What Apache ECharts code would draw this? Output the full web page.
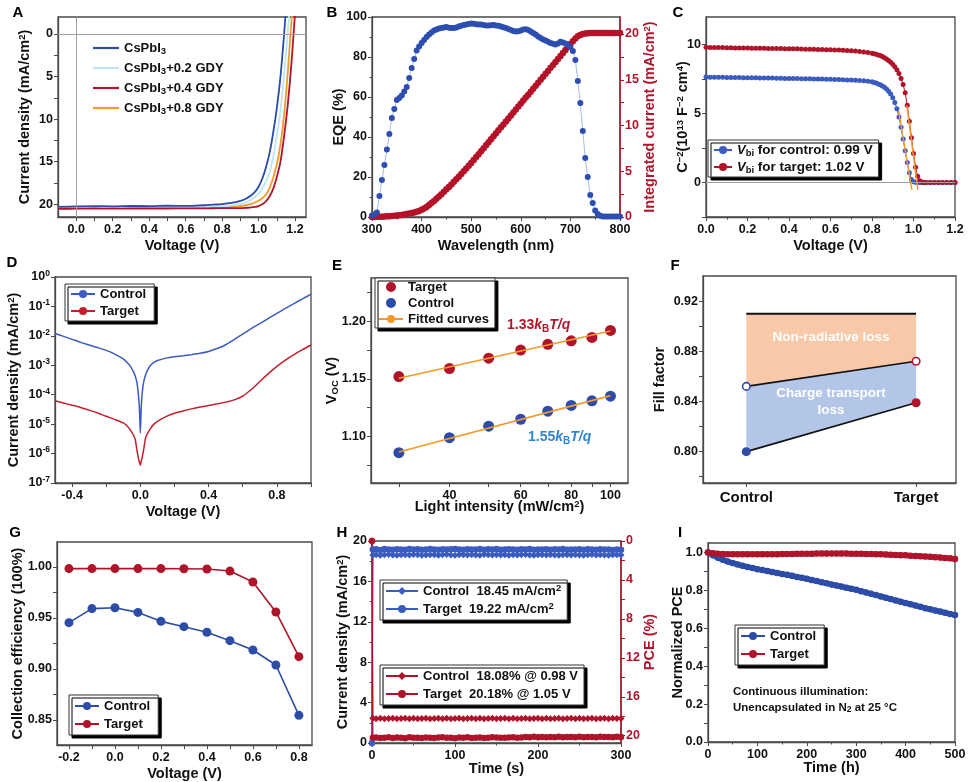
<!DOCTYPE html>
<html><head><meta charset="utf-8">
<script src="https://cdn.jsdelivr.net/npm/echarts@6/dist/echarts.min.js"></script>
<style>html,body{margin:0;padding:0;background:#fff}#c{width:969px;height:782px}</style>
</head><body><div id="c"></div>
<script>
// ---------- DATA ----------
// A: J-V curves
const A_V  = [-0.1,0,0.1,0.2,0.3,0.4,0.5,0.6,0.7,0.75,0.8,0.85,0.9,0.93,0.96,0.98,1.0,1.02,1.04,1.06,1.08,1.1,1.12,1.14,1.16,1.18,1.2,1.22];
const A_J0 = [20.3,20.25,20.22,20.24,20.2,20.22,20.18,20.2,20.12,20.05,19.98,19.85,19.6,19.35,18.95,18.55,17.95,17.0,15.7,14.0,11.6,8.7,5.0,0.0,-6,-12,-18,-24];
const A_J2 = [20.4,20.38,20.38,20.36,20.38,20.36,20.36,20.34,20.3,20.28,20.25,20.15,20.0,19.8,19.45,19.15,18.8,18.15,17.3,16.3,14.4,11.9,9.0,4.8,-0.2,-6,-12,-18];
const A_J4 = [20.55,20.52,20.5,20.52,20.5,20.5,20.5,20.48,20.48,20.47,20.46,20.46,20.45,20.42,20.38,20.32,20.22,20.0,19.65,19.1,18.2,16.8,15.0,12.0,8.3,3.5,-2.5,-9];
const A_J8 = [20.45,20.45,20.44,20.45,20.44,20.44,20.43,20.42,20.4,20.38,20.35,20.3,20.22,20.12,19.95,19.8,19.6,19.3,18.85,18.1,16.9,15.3,13.0,9.5,4.5,-1.5,-7,-13];
// B: EQE and integrated current
const B_WL = [300,305,310,315,320,325,330,335,340,345,350,355,360,365,370,375,380,385,390,395,400,405,410,415,420,425,430,435,440,445,450,455,460,465,470,475,480,485,490,495,500,505,510,515,520,525,530,535,540,545,550,555,560,565,570,575,580,585,590,595,600,605,610,615,620,625,630,635,640,645,650,655,660,665,670,675,680,685,690,695,700,705,710,715,720,725,730,735,740,745,750,755,760,765,770,775,780,785,790,795,800];
const B_EQE = [0.8,1.2,2.3,10.5,18.5,26,33.8,41.5,49.5,54,
58.5,59.5,60.8,62.8,65,69.5,74.5,79,83.2,85.2,
87,88.5,90,91.2,92.3,93.2,93.8,94.2,94.5,94.8,
95,94.6,94.5,94.5,94.8,95.2,95.6,96,96.2,96.5,
96.7,96.6,96.4,96.3,96.2,96,95.8,95.7,95.9,96,
95.8,95.6,95.3,94.9,94.5,94,93.5,93,92.8,92.9,
93.3,93.8,93.9,93.5,92.8,92,91.2,90.3,89.5,88.8,
88.2,87.6,87,86.6,86.3,86.8,87.6,87.3,86.8,86,
85,83,78.5,68,57,43,29.5,20,11,7,
3.2,1.5,0.6,0.3,0.3,0.3,0.3,0.3,0.3,0.3,0.3];
const B_INT = [0,0.01,0.02,0.03,0.04,0.05,0.07,0.09,0.11,0.13,
0.16,0.19,0.23,0.27,0.32,0.37,0.43,0.5,0.57,0.66,
0.78,0.93,1.1,1.3,1.52,1.76,2.0,2.25,2.5,2.76,
3.02,3.29,3.56,3.84,4.12,4.41,4.7,5.0,5.3,5.6,
5.9,6.22,6.55,6.87,7.2,7.52,7.85,8.17,8.5,8.82,
9.15,9.47,9.8,10.12,10.45,10.77,11.1,11.42,11.75,12.07,
12.4,12.72,13.05,13.37,13.7,14.02,14.35,14.67,15.0,15.32,
15.65,15.97,16.3,16.62,16.95,17.27,17.6,17.92,18.25,18.57,
18.9,19.22,19.52,19.75,19.9,19.99,20.05,20.08,20.1,20.1,
20.1,20.1,20.1,20.1,20.1,20.1,20.1,20.1,20.1,20.1,20.1];
// C: Mott-Schottky
const C_X = [0,0.02,0.04,0.06,0.08,0.1,0.12,0.14,0.16,0.18,0.2,0.22,0.24,0.26,0.28,0.3,0.32,0.34,0.36,0.38,0.4,0.42,0.44,0.46,0.48,0.5,0.52,0.54,0.56,0.58,0.6,0.62,0.64,0.66,0.68,0.7,0.72,0.74,0.76,0.78,0.8,0.81,0.82,0.83,0.84,0.85,0.86,0.87,0.88,0.89,0.9,0.91,0.92,0.93,0.94,0.95,0.96,0.97,0.98,0.99,1.0,1.01,1.02,1.03,1.04,1.05,1.06,1.08,1.1,1.12,1.14,1.16,1.18,1.2];
const C_CT = [7.65,7.64,7.64,7.63,7.63,7.62,7.62,7.61,7.61,7.6,7.6,7.59,7.59,7.58,7.58,7.57,7.57,7.56,7.56,7.55,7.55,7.54,7.54,7.53,7.52,7.52,7.51,7.5,7.5,7.49,7.48,7.47,7.46,7.45,7.44,7.43,7.41,7.39,7.37,7.34,7.3,7.26,7.21,7.15,7.08,7.0,6.9,6.78,6.62,6.42,6.15,5.8,5.35,4.75,4.0,3.15,2.3,1.45,0.7,0.22,0.06,0.02,0.01,0,0,0,0,0,0,0,0,0,0,0];
const C_TG = [9.8,9.79,9.79,9.78,9.78,9.77,9.77,9.76,9.76,9.75,9.75,9.74,9.74,9.73,9.73,9.72,9.72,9.71,9.71,9.7,9.7,9.69,9.69,9.68,9.67,9.66,9.66,9.65,9.64,9.63,9.62,9.61,9.6,9.59,9.57,9.56,9.53,9.5,9.47,9.43,9.38,9.34,9.3,9.25,9.2,9.13,9.05,8.96,8.85,8.72,8.57,8.4,8.18,7.9,7.55,7.1,6.5,5.6,4.45,3.25,2.1,1.1,0.45,0.12,0.03,0.01,0,0,0,0,0,0,0,0];
const C_FIT_CT = [[0.928,5.2],[0.992,-0.53]];
const C_FIT_TG = [[0.968,5.6],[1.021,-0.53]];
// D: dark J-V (log)
const D_V = [-0.5,-0.45,-0.4,-0.35,-0.3,-0.25,-0.2,-0.15,-0.1,-0.08,-0.06,-0.04,-0.03,-0.02,-0.015,-0.01,-0.005,0,0.005,0.01,0.015,0.02,0.03,0.04,0.06,0.08,0.1,0.15,0.2,0.25,0.3,0.35,0.4,0.45,0.5,0.55,0.6,0.65,0.7,0.75,0.8,0.85,0.9,0.95,1.0];
const D_CT = [1.2e-2,9.6e-3,7.6e-3,6.0e-3,4.9e-3,4.0e-3,3.2e-3,2.4e-3,1.65e-3,1.3e-3,9.5e-4,6.0e-4,4.3e-4,2.6e-4,1.6e-4,8.5e-5,3e-5,5e-6,3.5e-5,1e-4,1.8e-4,2.8e-4,4.6e-4,6.5e-4,1.0e-3,1.25e-3,1.45e-3,1.75e-3,1.95e-3,2.1e-3,2.3e-3,2.55e-3,2.95e-3,3.7e-3,5.0e-3,7.5e-3,1.15e-2,1.75e-2,2.6e-2,3.9e-2,5.8e-2,8.6e-2,1.25e-1,1.8e-1,2.6e-1];
const D_TG = [6.2e-5,5.2e-5,4.4e-5,3.7e-5,3.0e-5,2.4e-5,1.85e-5,1.45e-5,1.1e-5,9e-6,6.5e-6,4.2e-6,3e-6,1.3e-6,9e-7,6.5e-7,5e-7,4e-7,5.5e-7,7e-7,1e-6,1.4e-6,3.3e-6,4.6e-6,7.2e-6,1.0e-5,1.25e-5,1.8e-5,2.35e-5,2.8e-5,3.3e-5,3.8e-5,4.3e-5,4.9e-5,5.6e-5,6.7e-5,9e-5,1.5e-4,2.8e-4,5.2e-4,9.2e-4,1.5e-3,2.3e-3,3.4e-3,4.9e-3];
// E: Voc vs light intensity
const E_I = [30,40,50,60,70,80,90,100];
const E_TG = [1.152,1.159,1.168,1.175,1.180,1.183,1.186,1.192];
const E_CT = [1.086,1.099,1.109,1.115,1.122,1.127,1.131,1.135];
const E_FIT_X = [30,100];
const E_FIT_TG = [1.1505,1.1915];
const E_FIT_CT = [1.0865,1.1355];
// F: fill factor losses
const F_CAT = ['Control','Target'];
const F_X = [0,1];
const F_TOP = [0.91,0.91];
const F_OPEN = [0.852,0.872];
const F_FILL = [0.800,0.839];
// G: collection efficiency
const G_V = [-0.2,-0.1,0,0.1,0.2,0.3,0.4,0.5,0.6,0.7,0.8];
const G_CT = [0.9454,0.9592,0.9601,0.9555,0.9467,0.9415,0.936,0.9278,0.9186,0.9039,0.8546];
const G_TG = [0.9984,0.9984,0.9984,0.9984,0.9984,0.9983,0.998,0.996,0.9853,0.9559,0.9121];
// H: steady-state output
const H_T = [0,1,5,10,15,20,25,30,35,40,45,50,55,60,65,70,75,80,85,90,95,100,105,110,115,120,125,130,135,140,145,150,155,160,165,170,175,180,185,190,195,200,205,210,215,220,225,230,235,240,245,250,255,260,265,270,275,280,285,290,295,300];
const H_JC = [0,18.62,18.65,18.6,18.64,18.66,18.62,18.6,18.65,18.63,18.61,18.66,18.64,18.6,18.62,18.65,18.63,18.6,18.64,18.66,18.62,18.6,18.63,18.65,18.61,18.64,18.62,18.6,18.66,18.63,18.61,18.64,18.62,18.65,18.6,18.63,18.61,18.64,18.66,18.62,18.6,18.63,18.65,18.61,18.64,18.62,18.6,18.63,18.65,18.61,18.64,18.62,18.6,18.63,18.66,18.61,18.64,18.62,18.6,18.63,18.65,18.62];
const H_JT = [0,19.15,19.18,19.12,19.2,19.16,19.14,19.19,19.17,19.13,19.2,19.15,19.18,19.14,19.16,19.21,19.17,19.13,19.19,19.15,19.18,19.22,19.16,19.14,19.19,19.17,19.15,19.2,19.13,19.18,19.16,19.2,19.14,19.17,19.19,19.15,19.13,19.18,19.16,19.2,19.14,19.17,19.15,19.19,19.13,19.18,19.16,19.2,19.14,19.17,19.15,19.19,19.13,19.18,19.16,19.14,19.19,19.17,19.15,19.12,19.16,19.14];
const H_PC = [0,18.22,18.25,18.2,18.27,18.24,18.21,18.26,18.23,18.2,18.25,18.22,18.27,18.24,18.2,18.26,18.23,18.21,18.25,18.22,18.27,18.24,18.2,18.26,18.23,18.21,18.25,18.22,18.27,18.24,18.2,18.26,18.23,18.21,18.25,18.22,18.27,18.24,18.2,18.26,18.23,18.21,18.25,18.22,18.27,18.24,18.2,18.26,18.23,18.21,18.25,18.22,18.27,18.24,18.2,18.26,18.23,18.21,18.25,18.22,18.24,18.23];
const H_PT = [0,20.22,20.18,20.24,20.2,20.16,20.23,20.19,20.21,20.25,20.17,20.22,20.2,20.24,20.18,20.21,20.23,20.19,20.16,20.22,20.2,20.25,20.18,20.21,20.17,20.23,20.2,20.19,20.24,20.21,20.15,20.18,20.2,20.22,20.19,20.16,20.21,20.18,20.13,20.15,20.12,20.16,20.14,20.17,20.13,20.15,20.12,20.16,20.14,20.13,20.15,20.12,20.16,20.14,20.13,20.15,20.12,20.14,20.13,20.15,20.12,20.14];
// I: stability
const I_T = [0,10,20,30,40,50,60,70,80,90,100,110,120,130,140,150,160,170,180,190,200,210,220,230,240,250,260,270,280,290,300,310,320,330,340,350,360,370,380,390,400,410,420,430,440,450,460,470,480,490,500];
const I_CT = [1.0,0.985,0.972,0.961,0.952,0.944,0.937,0.930,0.924,0.918,0.912,0.907,0.902,0.897,0.892,0.887,0.882,0.877,0.871,0.866,0.861,0.855,0.849,0.843,0.837,0.831,0.826,0.820,0.814,0.809,0.803,0.796,0.789,0.782,0.775,0.768,0.761,0.754,0.747,0.740,0.733,0.727,0.720,0.713,0.706,0.700,0.694,0.688,0.682,0.676,0.670];
const I_TG = [1.0,0.996,0.993,0.992,0.991,0.99,0.99,0.99,0.99,0.99,0.99,0.99,0.991,0.991,0.991,0.992,0.992,0.992,0.993,0.993,0.993,0.993,0.994,0.994,0.994,0.994,0.994,0.994,0.994,0.993,0.993,0.993,0.992,0.992,0.991,0.99,0.989,0.988,0.987,0.986,0.985,0.983,0.982,0.98,0.979,0.977,0.975,0.973,0.971,0.969,0.966];

// ---------- STYLE ----------
const FONT = "'Liberation Sans', Arial, Helvetica, sans-serif";
const AXC = '#4a4a4a';
const BLUE = '#2c4ca8', RED = '#b0142b', ORANGE = '#f39a2d', CYAN = '#bde6f4', LBLUE='#3a5cc0';
const zip = (xs, ys) => xs.map((x, i) => [x, ys[i]]);
function merge(a, b) {
  const o = Object.assign({}, a);
  for (const k in b) {
    const v = b[k];
    if (v && typeof v === 'object' && !Array.isArray(v) && o[k] && typeof o[k] === 'object' && !Array.isArray(o[k])) o[k] = merge(o[k], v);
    else o[k] = v;
  }
  return o;
}
function richSet(color) {
  return {
    p: {fontSize: 9.5, fontWeight: 'bold', lineHeight: 10, verticalAlign: 'top', fontFamily: FONT, color},
    s: {fontSize: 9.5, fontWeight: 'bold', lineHeight: 10, verticalAlign: 'bottom', fontFamily: FONT, color},
    i: {fontSize: 13, fontStyle: 'italic', fontWeight: 'bold', fontFamily: FONT, color, lineHeight: 16}
  };
}
function axis(extra) {
  return merge({
    nameLocation: 'middle', nameMoveOverlap: false,
    nameTextStyle: {color: '#111', fontFamily: FONT, fontWeight: 'bold', fontSize: 14.5, lineHeight: 16, rich: richSet('#111')},
    axisLine: {show: true, onZero: false, lineStyle: {color: AXC, width: 1.3}},
    axisTick: {show: true, inside: false, length: 4, lineStyle: {color: AXC, width: 1}},
    minorTick: {show: false},
    axisLabel: {color: '#111', fontFamily: FONT, fontWeight: 'bold', fontSize: 12.5, margin: 5, lineHeight: 16, rich: {p: {fontSize: 8.5, fontWeight: 'bold', lineHeight: 9, verticalAlign: 'top', fontFamily: FONT, color: '#111'}}},
    splitLine: {show: false}
  }, extra || {});
}
const MINOR = {show: true, splitNumber: 2, length: 2.5, lineStyle: {color: AXC}};
const f1 = v => v.toFixed(1), f2 = v => v.toFixed(2);
function grid(l, t, w, h) {
  return {left: l, top: t, width: w, height: h, show: true, borderColor: AXC, borderWidth: 1.3, backgroundColor: 'rgba(0,0,0,0)', containLabel: false, outerBoundsMode: 'none'};
}

const LBL = {
  a0: 'CsPbI{s|3}', a2: 'CsPbI{s|3}+0.2 GDY', a4: 'CsPbI{s|3}+0.4 GDY', a8: 'CsPbI{s|3}+0.8 GDY',
  cCtrl: '{i|V}{s|bi} for control: 0.99 V', cTgt: '{i|V}{s|bi} for target: 1.02 V',
  dCtrl: 'Control', dTgt: 'Target',
  eTgt: 'Target', eCtrl: 'Control', eFit: 'Fitted curves',
  gCtrl: 'Control', gTgt: 'Target',
  hJc: 'Control  18.45 mA/cm{p|2}', hJt: 'Target  19.22 mA/cm{p|2}',
  hPc: 'Control  18.08% @ 0.98 V', hPt: 'Target  20.18% @ 1.05 V',
  iCtrl: 'Control', iTgt: 'Target'
};
function legend(extra) {
  return merge({
    orient: 'vertical', backgroundColor: '#fff', borderColor: '#333', borderWidth: 1,
    shadowColor: '#000', shadowBlur: 0, shadowOffsetX: 3, shadowOffsetY: 3,
    padding: [3, 6, 3, 6], itemGap: 3, itemWidth: 24, itemHeight: 10, selectedMode: false,
    textStyle: {fontFamily: FONT, fontWeight: 'bold', fontSize: 13, color: '#111', lineHeight: 16, rich: richSet('#111')},
    formatter: n => LBL[n]
  }, extra);
}

const grids = [
  grid(58, 17, 248, 200),   // A
  grid(372, 17, 248, 200),  // B
  grid(706, 17, 249, 200),  // C
  grid(55, 277, 256, 206),  // D
  grid(371, 278, 257, 205), // E
  grid(703, 276, 253, 207), // F
  grid(57, 542, 255, 203),  // G
  grid(372, 541, 249, 202), // H
  grid(708, 543, 247, 199)  // I
];

const xAxes = [
  axis({gridIndex: 0, type: 'value', min: -0.1, max: 1.26, name: 'Voltage (V)', nameGap: 21,
    axisLabel: {customValues: [0,0.2,0.4,0.6,0.8,1.0,1.2], formatter: f1},
    axisTick: {customValues: [0,0.1,0.2,0.3,0.4,0.5,0.6,0.7,0.8,0.9,1.0,1.1,1.2]}}),
  axis({gridIndex: 1, type: 'value', min: 300, max: 800, interval: 100, name: 'Wavelength (nm)', nameGap: 21, minorTick: MINOR}),
  axis({gridIndex: 2, type: 'value', min: 0, max: 1.2, interval: 0.2, name: 'Voltage (V)', nameGap: 21, minorTick: MINOR, axisLabel: {formatter: f1}}),
  axis({gridIndex: 3, type: 'value', min: -0.5, max: 1.0, name: 'Voltage (V)', nameGap: 21,
    axisLabel: {customValues: [-0.4,0,0.4,0.8], formatter: f1},
    axisTick: {customValues: [-0.4,-0.2,0,0.2,0.4,0.6,0.8,1.0]}}),
  axis({gridIndex: 4, type: 'log', logBase: 10, min: 25.6, max: 110.5, name: 'Light intensity (mW/cm{p|2})', nameGap: 16,
    axisLabel: {customValues: [40,60,80,100], formatter: v => String(Math.round(v))},
    axisTick: {customValues: [30,40,50,60,70,80,90,100]}}),
  axis({gridIndex: 5, type: 'value', min: -0.255, max: 1.235,
    axisLabel: {customValues: [0,1], formatter: v => F_CAT[Math.round(v)], fontSize: 15, margin: 7},
    axisTick: {customValues: [0,1]}}),
  axis({gridIndex: 6, type: 'value', min: -0.252, max: 0.857, name: 'Voltage (V)', nameGap: 21,
    axisLabel: {customValues: [-0.2,0,0.2,0.4,0.6,0.8], formatter: f1},
    axisTick: {customValues: [-0.2,-0.1,0,0.1,0.2,0.3,0.4,0.5,0.6,0.7,0.8]}}),
  axis({gridIndex: 7, type: 'value', min: 0, max: 300, interval: 100, name: 'Time (s)', nameGap: 18, minorTick: MINOR}),
  axis({gridIndex: 8, type: 'value', min: 0, max: 500, interval: 100, name: 'Time (h)', nameGap: 18, minorTick: MINOR})
];

const redAxisStyle = {
  axisLine: {lineStyle: {color: RED, width: 1.5}},
  axisTick: {lineStyle: {color: RED}},
  axisLabel: {color: RED},
  nameTextStyle: {color: RED, rich: richSet(RED)}
};

const yAxes = [
  axis({gridIndex: 0, type: 'value', inverse: true, min: -2, max: 21.5, name: 'Current density (mA/cm{p|2})', nameGap: 25,
    axisLabel: {customValues: [0,5,10,15,20]}, axisTick: {customValues: [0,2.5,5,7.5,10,12.5,15,17.5,20]}}),
  axis({gridIndex: 1, type: 'value', min: 0, max: 100, interval: 20, name: 'EQE (%)', nameGap: 25, minorTick: MINOR}),
  axis(merge({gridIndex: 1, type: 'value', position: 'right', min: 0, max: 21.86, name: 'Integrated current (mA/cm{p|2})', nameGap: 22,
    axisLabel: {customValues: [0,5,10,15,20]}, axisTick: {customValues: [0,2.5,5,7.5,10,12.5,15,17.5,20]}}, redAxisStyle)),
  axis({gridIndex: 2, type: 'value', min: -2.5, max: 12, name: 'C{p|−2}(10{p|13} F{p|−2} cm{p|4})', nameGap: 15,
    axisLabel: {customValues: [0,5,10]}, axisTick: {customValues: [-2.5,0,2.5,5,7.5,10]}}),
  axis({gridIndex: 3, type: 'log', logBase: 10, min: 1e-7, max: 1, name: 'Current density (mA/cm{p|2})', nameGap: 33,
    axisLabel: {formatter: v => '10{p|' + Math.round(Math.log10(v)) + '}'}}),
  axis({gridIndex: 4, type: 'value', min: 1.0597, max: 1.2375, name: 'V{s|OC} (V)', nameGap: 31,
    axisLabel: {customValues: [1.10,1.15,1.20], formatter: f2}, axisTick: {customValues: [1.075,1.1,1.125,1.15,1.175,1.2,1.225]}}),
  axis({gridIndex: 5, type: 'value', min: 0.775, max: 0.94, name: 'Fill factor', nameGap: 35,
    axisLabel: {customValues: [0.80,0.84,0.88,0.92], formatter: f2}, axisTick: {customValues: [0.78,0.8,0.82,0.84,0.86,0.88,0.9,0.92]}}),
  axis({gridIndex: 6, type: 'value', min: 0.8255, max: 1.0245, name: 'Collection efficiency (100%)', nameGap: 31,
    axisLabel: {customValues: [0.85,0.90,0.95,1.00], formatter: f2}, axisTick: {customValues: [0.85,0.875,0.9,0.925,0.95,0.975,1.0]}}),
  axis({gridIndex: 7, type: 'value', min: 0, max: 20, interval: 4, name: 'Current density (mA/cm{p|2})', nameGap: 21, minorTick: MINOR}),
  axis(merge({gridIndex: 7, type: 'value', position: 'right', inverse: true, min: 0, max: 20.75, name: 'PCE (%)', nameGap: 21,
    axisLabel: {customValues: [0,4,8,12,16,20]}, axisTick: {customValues: [0,2,4,6,8,10,12,14,16,18,20]}}, redAxisStyle)),
  axis({gridIndex: 8, type: 'value', min: 0, max: 1.05, name: 'Normalized PCE', nameGap: 22,
    axisLabel: {customValues: [0,0.2,0.4,0.6,0.8,1.0], formatter: f1}, axisTick: {customValues: [0,0.1,0.2,0.3,0.4,0.5,0.6,0.7,0.8,0.9,1.0]}})
];

const refLine = (data) => ({silent: true, symbol: 'none', label: {show: false}, animation: false,
  lineStyle: {color: '#a0a0a0', width: 1, type: 'solid'}, emphasis: {disabled: true}, data});

const lineS = (name, xi, yi, data, color, extra) => merge({
  type: 'line', name, xAxisIndex: xi, yAxisIndex: yi, data, symbol: 'none',
  lineStyle: {color, width: 1.6}, itemStyle: {color}, emphasis: {disabled: true}
}, extra || {});

const series = [
  // A
  lineS('a8', 0, 0, zip(A_V, A_J8), ORANGE, {smooth: 0.3, lineStyle: {width: 1.8}}),
  lineS('a2', 0, 0, zip(A_V, A_J2), CYAN, {smooth: 0.3, lineStyle: {width: 1.8}}),
  lineS('a4', 0, 0, zip(A_V, A_J4), RED, {smooth: 0.3, lineStyle: {width: 1.8}}),
  lineS('a0', 0, 0, zip(A_V, A_J0), BLUE, {smooth: 0.3, lineStyle: {width: 1.8}, markLine: refLine([{xAxis: 0}, {yAxis: 0}])}),
  // B
  lineS('bEQE', 1, 1, zip(B_WL, B_EQE), '#a9bbe6', {symbol: 'circle', symbolSize: 6, showAllSymbol: true, lineStyle: {width: 1}, itemStyle: {color: '#2d4eb0'}}),
  {type: 'scatter', name: 'bInt', xAxisIndex: 1, yAxisIndex: 2, data: zip(B_WL, B_INT), symbolSize: 6.5, itemStyle: {color: '#b5122a', opacity: 1}},
  // C
  lineS('cCtrl', 2, 3, zip(C_X, C_CT), LBLUE, {symbol: 'circle', symbolSize: 5, showAllSymbol: true, lineStyle: {width: 1}, markLine: refLine([{yAxis: 0}])}),
  lineS('cTgt', 2, 3, zip(C_X, C_TG), RED, {symbol: 'circle', symbolSize: 5, showAllSymbol: true, lineStyle: {width: 1}}),
  lineS('cFit1', 2, 3, C_FIT_CT, ORANGE, {lineStyle: {width: 1.4}, z: 4}),
  lineS('cFit2', 2, 3, C_FIT_TG, ORANGE, {lineStyle: {width: 1.4}, z: 4}),
  // D
  lineS('dCtrl', 3, 4, zip(D_V, D_CT), LBLUE, {smooth: 0.25, lineStyle: {width: 1.5}}),
  lineS('dTgt', 3, 4, zip(D_V, D_TG), '#c0202e', {smooth: 0.25, lineStyle: {width: 1.5}}),
  // E
  {type: 'scatter', name: 'eTgt', xAxisIndex: 4, yAxisIndex: 5, data: zip(E_I, E_TG), symbolSize: 11, itemStyle: {color: RED, opacity: 1}},
  {type: 'scatter', name: 'eCtrl', xAxisIndex: 4, yAxisIndex: 5, data: zip(E_I, E_CT), symbolSize: 11, itemStyle: {color: BLUE, opacity: 1}},
  lineS('eFit', 4, 5, zip(E_FIT_X, E_FIT_TG), ORANGE, {lineStyle: {width: 1.6}, z: 4}),
  lineS('eFit', 4, 5, zip(E_FIT_X, E_FIT_CT), ORANGE, {lineStyle: {width: 1.6}, z: 4}),
  // F bands
  {type: 'custom', name: 'fBandO', xAxisIndex: 5, yAxisIndex: 6, data: [[F_X[0], F_TOP[0]]], silent: true, z: 1,
    renderItem: (p, api) => ({type: 'polygon', shape: {points: [
      api.coord([F_X[0], F_TOP[0]]), api.coord([F_X[1], F_TOP[1]]), api.coord([F_X[1], F_OPEN[1]]), api.coord([F_X[0], F_OPEN[0]])]},
      style: {fill: '#f7c9a8'}})},
  {type: 'custom', name: 'fBandB', xAxisIndex: 5, yAxisIndex: 6, data: [[F_X[0], F_OPEN[0]]], silent: true, z: 1,
    renderItem: (p, api) => ({type: 'polygon', shape: {points: [
      api.coord([F_X[0], F_OPEN[0]]), api.coord([F_X[1], F_OPEN[1]]), api.coord([F_X[1], F_FILL[1]]), api.coord([F_X[0], F_FILL[0]])]},
      style: {fill: '#b3c6e8'}})},
  lineS('fTop', 5, 6, zip(F_X, F_TOP), '#111', {lineStyle: {width: 2}}),
  lineS('fOpen', 5, 6, [
      {value: [F_X[0], F_OPEN[0]], itemStyle: {color: '#fff', borderColor: BLUE, borderWidth: 1.6}},
      {value: [F_X[1], F_OPEN[1]], itemStyle: {color: '#fff', borderColor: RED, borderWidth: 1.6}}],
    '#111', {symbol: 'circle', symbolSize: 7.5, lineStyle: {width: 1.6}, z: 5}),
  lineS('fFill', 5, 6, [
      {value: [F_X[0], F_FILL[0]], itemStyle: {color: BLUE}},
      {value: [F_X[1], F_FILL[1]], itemStyle: {color: RED}}],
    '#111', {symbol: 'circle', symbolSize: 9, lineStyle: {width: 1.6}, z: 5}),
  // G
  lineS('gCtrl', 6, 7, zip(G_V, G_CT), BLUE, {symbol: 'circle', symbolSize: 9, lineStyle: {width: 1.6}}),
  lineS('gTgt', 6, 7, zip(G_V, G_TG), RED, {symbol: 'circle', symbolSize: 9, lineStyle: {width: 1.6}}),
  // H
  lineS('hJc', 7, 8, zip(H_T, H_JC), LBLUE, {symbol: 'diamond', symbolSize: 7, showAllSymbol: true, lineStyle: {width: 1}}),
  lineS('hJt', 7, 8, zip(H_T, H_JT), LBLUE, {symbol: 'circle', symbolSize: 6.5, showAllSymbol: true, lineStyle: {width: 1}}),
  lineS('hPc', 7, 9, zip(H_T, H_PC), RED, {symbol: 'diamond', symbolSize: 7, showAllSymbol: true, lineStyle: {width: 1}}),
  lineS('hPt', 7, 9, zip(H_T, H_PT), RED, {symbol: 'circle', symbolSize: 6.5, showAllSymbol: true, lineStyle: {width: 1}}),
  // I
  lineS('iCtrl', 8, 10, zip(I_T, I_CT), BLUE, {symbol: 'circle', symbolSize: 6.5, showAllSymbol: true, lineStyle: {width: 5.5}}),
  lineS('iTgt', 8, 10, zip(I_T, I_TG), RED, {symbol: 'circle', symbolSize: 6.5, showAllSymbol: true, lineStyle: {width: 5.5}})
];

const legends = [
  legend({data: ['a0','a2','a4','a8'], left: 93, top: 40, icon: 'rect', itemWidth: 26, itemHeight: 2.2,
    backgroundColor: 'rgba(0,0,0,0)', borderWidth: 0, shadowOffsetX: 0, shadowOffsetY: 0, shadowColor: 'rgba(0,0,0,0)', itemGap: 4, padding: 0}),
  legend({data: ['cCtrl','cTgt'], left: 708, top: 140, itemGap: 1, itemWidth: 18, padding: [2, 6, 2, 5], textStyle: {fontSize: 13.5}}),
  legend({data: ['dCtrl','dTgt'], left: 65, top: 284, itemGap: 1, padding: [2, 8, 2, 5]}),
  legend({data: [{name: 'eTgt', icon: 'circle'}, {name: 'eCtrl', icon: 'circle'}, 'eFit'], left: 375, top: 278, itemGap: 0, padding: [1, 6, 1, 3]}),
  legend({data: ['gCtrl','gTgt'], left: 69, top: 695, itemGap: 2, padding: [3, 8, 3, 5]}),
  legend({data: ['hJc','hJt'], left: 380, top: 580, itemGap: 2, itemWidth: 32, padding: [3, 6, 3, 5]}),
  legend({data: ['hPc','hPt'], left: 380, top: 665, itemGap: 2, itemWidth: 32, padding: [3, 6, 3, 5]}),
  legend({data: ['iCtrl','iTgt'], left: 735, top: 625, itemGap: 2, padding: [3, 8, 3, 5]})
];

const LETTERS = [['A',18,13],['B',332,13],['C',678,13],['D',12,263],['E',337,266],['F',675,266],['G',15,533],['H',342,533],['I',680,533]];
const txt = (text, x, y, fill, size, align, rich) => ({type: 'text', x, y, silent: true, z: 20,
  style: {text, fill, font: 'bold ' + size + 'px ' + FONT, textAlign: align || 'left', textVerticalAlign: 'middle', rich}});
const RE = '#b5152b', BL2 = '#2f86d4';
const annRich = (c) => ({i: {fontStyle: 'italic', fontWeight: 'bold', fontSize: 14, fontFamily: FONT, fill: c, lineHeight: 18},
  s: {fontWeight: 'bold', fontSize: 10, fontFamily: FONT, fill: c, lineHeight: 10, verticalAlign: 'bottom'},
  n: {fontWeight: 'bold', fontSize: 14, fontFamily: FONT, fill: c, lineHeight: 18}});
const graphics = LETTERS.map(([t, x, y]) => txt(t, x, y, '#000', 15, 'center')).concat([
  txt('{n|1.33}{i|k}{s|B}{i|T/q}', 507, 325, RE, 14, 'left', annRich(RE)),
  txt('{n|1.55}{i|k}{s|B}{i|T/q}', 528, 437, BL2, 14, 'left', annRich(BL2)),
  txt('Non-radiative loss', 831, 337, '#fff', 13.5, 'center'),
  txt('Charge transport', 831, 393, '#fff', 13.5, 'center'),
  txt('loss', 831, 410, '#fff', 13.5, 'center'),
  txt('Continuous illumination:', 733, 692, '#111', 11.5, 'left'),
  txt('Unencapsulated in N{s|2} at 25 °C', 733, 708, '#111', 11.5, 'left',
    {s: {fontWeight: 'bold', fontSize: 8.5, fontFamily: FONT, fill: '#111', lineHeight: 9, verticalAlign: 'bottom'}})
]);

const chart = echarts.init(document.getElementById('c'), null, {renderer: 'canvas'});
chart.setOption({
  animation: false,
  backgroundColor: '#fff',
  textStyle: {fontFamily: FONT},
  grid: grids, xAxis: xAxes, yAxis: yAxes, series, legend: legends, graphic: graphics
});
</script></body></html>
